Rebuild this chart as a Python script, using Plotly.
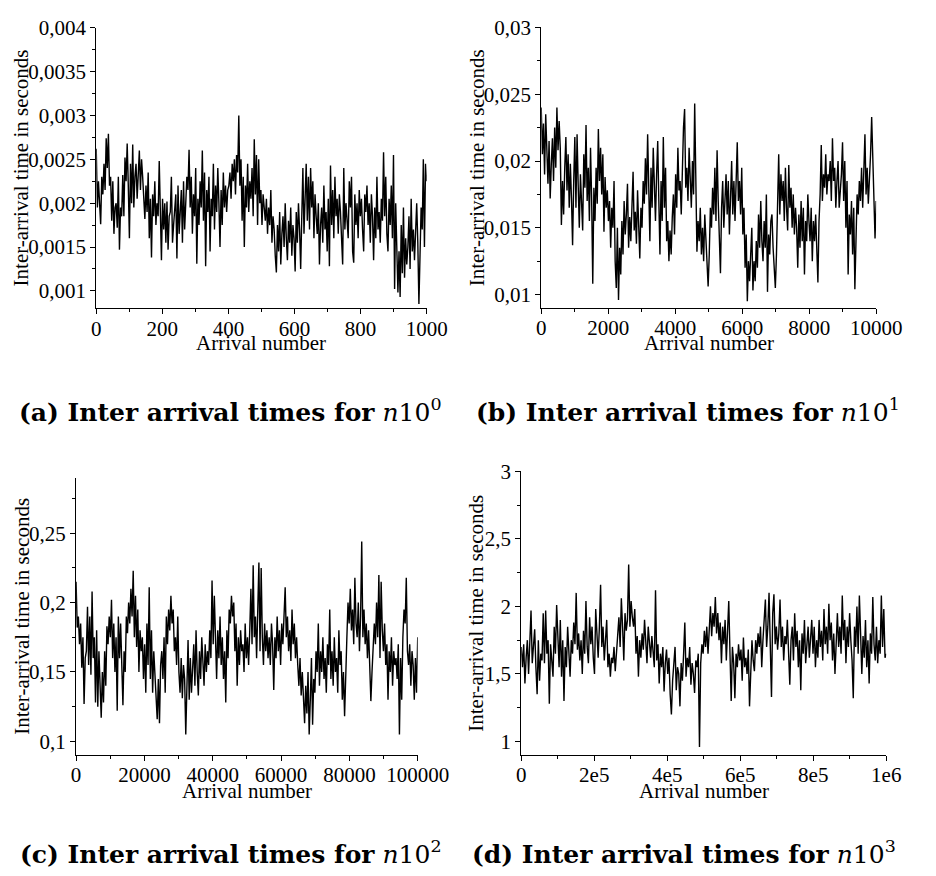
import numpy as np
import plotly.graph_objects as go

# ---------------- data ----------------
# (a) inter-arrival times, n10^0, in milliseconds
inter_a_ms = [
    2.62, 1.95, 2.25, 1.9, 1.76, 2.3, 2.1, 2.45, 2.15, 2.74, 2.4, 2.79, 2.2, 2.3, 1.8, 2.25, 1.65, 1.95, 2.0, 1.72, 2.3, 1.47, 1.95, 1.85, 2.32, 1.85, 2.52, 2.25, 2.68, 2.2,
    1.6, 2.45, 2.0, 2.67, 1.95, 2.3, 2.45, 2.05, 2.4, 2.6, 2.15, 2.5, 2.3, 2.05, 1.82, 2.2, 1.9, 2.35, 1.6, 2.05, 1.38, 2.1, 1.85, 2.25, 1.75, 2.0, 1.85, 2.48, 1.8, 1.35,
    2.05, 1.7, 2.0, 1.55, 2.02, 1.47, 1.85, 1.9, 2.3, 1.55, 1.75, 1.95, 2.1, 1.37, 2.2, 1.65, 1.95, 2.15, 1.55, 2.25, 1.7, 2.0, 2.3, 2.15, 2.61, 1.95, 2.3, 1.65, 2.1, 1.85,
    2.4, 1.31, 2.05, 1.75, 2.25, 1.95, 2.6, 1.8, 2.35, 1.28, 2.15, 1.9, 2.3, 1.45, 2.05, 1.85, 2.45, 1.7, 2.2, 1.9, 2.4, 2.0, 1.5, 2.15, 1.75, 2.35, 1.95, 2.2, 1.9, 2.15,
    2.2, 2.35, 2.05, 2.45, 2.25, 2.5, 2.1, 2.55, 2.35, 3.0, 2.2, 2.5, 1.8, 2.3, 1.5, 2.2, 1.95, 2.45, 1.9, 2.25, 2.05, 2.4, 1.85, 2.73, 2.1, 2.55, 1.75, 2.5, 2.0, 2.15,
    1.75, 2.1, 1.9, 1.8, 2.05, 1.65, 1.95, 1.75, 2.15, 1.55, 1.85, 1.7, 1.4, 1.21, 1.75, 1.45, 1.9, 1.3, 1.65, 1.85, 1.5, 2.0, 1.6, 1.35, 1.8, 1.55, 1.95, 1.4, 1.75, 1.6,
    1.22, 1.9, 1.55, 2.0, 1.7, 1.25, 1.85, 2.4, 1.65, 2.2, 2.45, 1.8, 2.3, 1.7, 2.4, 1.95, 2.25, 1.6, 2.1, 1.85, 1.65, 2.0, 1.3, 1.75, 1.95, 1.55, 2.2, 1.7, 1.9, 1.45,
    2.05, 1.28, 2.43, 1.75, 2.15, 1.6, 2.3, 1.85, 2.05, 1.65, 2.1, 1.9, 1.55, 1.3, 2.4, 1.7, 2.0, 1.85, 1.6, 2.25, 1.95, 2.3, 1.45, 1.32, 2.1, 1.75, 2.0, 1.6, 2.15, 1.85,
    2.05, 1.7, 1.45, 2.1, 1.9, 2.2, 1.75, 2.0, 1.55, 2.1, 1.85, 1.35, 1.95, 1.6, 2.3, 1.7, 1.9, 1.55, 2.05, 1.8, 2.58, 1.85, 2.3, 1.65, 1.45, 2.05, 1.75, 2.2, 1.6, 2.55,
    1.02, 2.0, 1.55, 0.98, 1.45, 0.93, 1.75, 1.2, 1.95, 1.15, 1.6, 1.3, 1.5, 1.85, 1.25, 2.05, 1.45, 1.7, 1.35, 1.6, 2.0, 1.55, 0.85, 1.4, 1.95, 1.7, 2.5, 1.5, 2.45, 2.25,
]

# (b) inter-arrival times, n10^1, in milliseconds
inter_b_ms = [
    24.0, 20.5, 22.8, 19.0, 23.5, 20.2, 18.3, 21.5, 17.2, 19.8, 21.7, 18.5, 22.5, 19.5, 24.0, 20.8, 23.0, 21.0, 15.2, 18.5, 16.0, 19.5, 21.8, 17.8, 20.5, 16.5, 19.8, 17.2, 13.7, 18.5,
    21.8, 16.5, 22.0, 18.2, 15.0, 19.0, 16.8, 14.8, 20.5, 18.0, 22.7, 17.0, 19.5, 15.5, 21.0, 17.2, 10.8, 18.0, 15.5, 19.5, 16.8, 22.4, 18.5, 21.0, 17.5, 20.5, 14.7, 18.8, 16.5, 17.8,
    15.5, 17.0, 13.5, 16.5, 15.0, 18.5, 12.5, 10.5, 15.0, 9.6, 13.5, 11.5, 15.5, 13.0, 17.0, 14.5, 16.0, 18.3, 13.5, 15.8, 14.0, 17.5, 19.2, 14.8, 16.2, 13.8, 17.8, 15.2, 12.7, 16.5,
    15.0, 18.5, 16.8, 20.2, 17.5, 22.0, 18.5, 14.0, 19.5, 16.5, 21.0, 17.8, 15.5, 19.0, 21.5, 17.0, 13.0, 18.5, 15.5, 21.8, 16.5, 19.5, 14.0, 15.5, 12.5, 14.8, 13.0, 15.8, 17.5, 14.5,
    19.0, 16.5, 21.0, 17.8, 18.5, 16.0, 19.5, 22.5, 23.9, 18.0, 19.5, 17.0, 21.0, 18.5, 16.5, 20.0, 17.5, 24.3, 18.0, 13.2, 15.5, 14.0, 16.5, 13.0, 15.0, 12.5, 16.0, 14.5, 12.0, 10.6,
    13.0, 16.5, 15.0, 18.0, 16.0, 19.5, 15.5, 20.8, 17.0, 14.5, 11.6, 16.5, 18.5, 15.0, 17.5, 19.0, 16.0, 18.5, 14.5, 17.5, 20.0, 16.0, 18.5, 15.5, 19.0, 21.4, 17.0, 18.5, 16.0, 19.5,
    14.5, 16.5, 12.0, 14.5, 9.5, 12.5, 11.0, 13.5, 15.0, 10.3, 12.5, 11.0, 14.0, 12.0, 16.0, 13.5, 17.0, 14.0, 12.5, 15.5, 13.5, 17.5, 10.2, 14.5, 13.0, 15.5, 16.0, 13.5, 12.0, 10.5,
    13.0, 17.5, 20.5, 16.0, 19.0, 17.0, 18.5, 15.5, 19.5, 16.5, 14.8, 19.7, 16.5, 18.0, 15.0, 17.5, 14.5, 16.5, 15.0, 12.0, 16.0, 13.5, 17.0, 14.0, 16.5, 11.5, 15.5, 14.0, 17.5, 15.5,
    14.0, 16.5, 12.5, 15.5, 14.0, 16.0, 13.0, 10.9, 15.5, 17.5, 21.2, 17.0, 19.0, 18.0, 20.5, 17.5, 19.0, 18.5, 20.0, 17.0, 21.7, 18.5, 19.5, 16.5, 18.5, 20.0, 16.5, 17.5, 19.0, 21.4,
    17.0, 20.0, 15.0, 18.5, 11.5, 16.0, 14.5, 17.0, 13.0, 16.5, 10.4, 14.0, 17.5, 16.0, 18.5, 17.0, 19.5, 16.5, 19.0, 22.0, 17.5, 19.5, 16.8, 18.5, 20.5, 23.3, 20.8, 18.0, 14.2, 17.0,
]

# (c) inter-arrival times, n10^2, in seconds
inter_c_s = [
    0.215, 0.182, 0.19, 0.17, 0.185, 0.153, 0.175, 0.127, 0.16, 0.165, 0.197, 0.155, 0.19, 0.148, 0.208, 0.16, 0.175, 0.128, 0.18, 0.125, 0.165, 0.14, 0.117, 0.15, 0.128, 0.165, 0.14, 0.183, 0.17, 0.19,
    0.175, 0.202, 0.16, 0.185, 0.15, 0.175, 0.122, 0.19, 0.16, 0.185, 0.145, 0.126, 0.165, 0.15, 0.19, 0.178, 0.2, 0.185, 0.21, 0.19, 0.223, 0.175, 0.205, 0.168, 0.195, 0.15, 0.18, 0.165, 0.175, 0.145,
    0.17, 0.135, 0.185, 0.155, 0.211, 0.145, 0.18, 0.135, 0.165, 0.15, 0.128, 0.116, 0.145, 0.113, 0.155, 0.165, 0.145, 0.175, 0.135, 0.19, 0.17, 0.195, 0.18, 0.205, 0.185, 0.195, 0.165, 0.175, 0.155, 0.19,
    0.15, 0.135, 0.16, 0.131, 0.155, 0.145, 0.105, 0.14, 0.173, 0.13, 0.16, 0.135, 0.15, 0.17, 0.14, 0.18, 0.15, 0.133, 0.165, 0.145, 0.175, 0.155, 0.14, 0.17, 0.15, 0.165, 0.155, 0.18, 0.16, 0.216,
    0.17, 0.205, 0.165, 0.145, 0.18, 0.16, 0.19, 0.155, 0.175, 0.145, 0.165, 0.128, 0.18, 0.16, 0.195, 0.185, 0.205, 0.19, 0.2, 0.165, 0.185, 0.14, 0.175, 0.155, 0.18, 0.165, 0.17, 0.15, 0.185, 0.16,
    0.175, 0.155, 0.18, 0.21, 0.17, 0.227, 0.175, 0.19, 0.16, 0.2, 0.229, 0.165, 0.225, 0.175, 0.155, 0.185, 0.165, 0.18, 0.16, 0.175, 0.155, 0.185, 0.17, 0.137, 0.175, 0.16, 0.19, 0.165, 0.18, 0.155,
    0.185, 0.17, 0.2, 0.211, 0.175, 0.19, 0.165, 0.18, 0.158, 0.195, 0.17, 0.185, 0.16, 0.175, 0.155, 0.14, 0.16, 0.133, 0.15, 0.125, 0.113, 0.14, 0.12, 0.15, 0.105, 0.13, 0.16, 0.112, 0.145, 0.135,
    0.165, 0.15, 0.185, 0.14, 0.165, 0.15, 0.175, 0.145, 0.16, 0.135, 0.17, 0.155, 0.195, 0.145, 0.165, 0.14, 0.175, 0.15, 0.16, 0.135, 0.18, 0.155, 0.165, 0.13, 0.15, 0.118, 0.16, 0.175, 0.2, 0.185,
    0.21, 0.18, 0.195, 0.17, 0.218, 0.185, 0.175, 0.2, 0.165, 0.19, 0.244, 0.175, 0.195, 0.17, 0.185, 0.16, 0.18, 0.145, 0.129, 0.15, 0.165, 0.185, 0.17, 0.2, 0.175, 0.22, 0.16, 0.215, 0.18, 0.165,
    0.185, 0.155, 0.17, 0.13, 0.165, 0.15, 0.175, 0.14, 0.165, 0.155, 0.16, 0.145, 0.17, 0.105, 0.16, 0.13, 0.175, 0.195, 0.185, 0.218, 0.165, 0.155, 0.17, 0.14, 0.165, 0.155, 0.13, 0.16, 0.135, 0.175,
]

# (d) inter-arrival times, n10^3, in seconds
inter_d_s = [
    1.7, 1.55, 1.72, 1.43, 1.62, 1.75, 1.5, 1.68, 1.97, 1.58, 1.7, 1.83, 1.55, 1.35, 1.75, 1.45, 1.65, 1.6, 1.95, 1.58, 1.97, 1.65, 1.75, 1.28, 1.72, 1.6, 1.48, 1.85, 1.65, 2.01,
    1.7, 1.55, 1.9, 1.48, 1.75, 1.3, 1.7, 1.55, 1.85, 1.62, 1.48, 1.75, 1.65, 1.88, 1.72, 2.1, 1.68, 1.8, 1.6, 1.75, 1.5, 1.82, 1.65, 2.04, 1.7, 1.58, 1.92, 1.72, 1.85, 1.62,
    1.5, 1.98, 1.75, 1.62, 1.85, 2.16, 1.7, 1.85, 1.6, 1.8, 1.9, 1.55, 1.65, 1.48, 1.62, 1.58, 1.7, 1.52, 1.65, 1.78, 1.92, 1.7, 2.06, 1.85, 1.6, 1.95, 1.82, 1.9, 2.31, 1.85,
    2.04, 1.92, 1.85, 1.98, 1.65, 1.78, 1.48, 1.75, 1.62, 1.8, 1.68, 1.9, 1.72, 1.58, 1.85, 1.7, 1.62, 1.78, 1.65, 1.55, 2.12, 1.6, 1.72, 1.43, 1.65, 1.55, 1.7, 1.37, 1.58, 1.68,
    1.5, 1.62, 1.35, 1.2, 1.45, 1.6, 1.7, 1.38, 1.55, 1.5, 1.26, 1.58, 1.45, 1.65, 1.88, 1.48, 1.62, 1.55, 1.7, 1.42, 1.58, 1.5, 1.36, 1.6, 1.55, 1.65, 0.96, 1.58, 1.72, 1.65,
    1.82, 1.7, 1.85, 1.65, 1.9, 2.0, 1.78, 1.95, 1.85, 2.07, 1.8, 1.95, 1.75, 1.88, 1.58, 1.85, 1.72, 1.9, 1.6, 1.8, 2.04, 1.65, 1.3, 1.7, 1.58, 1.32, 1.65, 1.55, 1.72, 1.6,
    1.68, 1.45, 1.77, 1.55, 1.62, 1.5, 1.68, 1.26, 1.58, 1.75, 1.6, 1.52, 1.75, 1.65, 1.8, 1.7, 1.85, 1.55, 1.75, 1.9, 2.05, 1.7, 1.85, 2.1, 1.75, 1.33, 1.95, 2.09, 1.72, 1.85,
    1.68, 1.8, 2.05, 1.7, 1.85, 1.6, 1.78, 1.72, 1.9, 1.65, 1.42, 1.75, 1.85, 1.6, 1.95, 1.7, 1.82, 1.55, 1.75, 1.38, 1.8, 1.65, 1.9, 1.58, 1.75, 1.85, 1.62, 1.78, 1.9, 1.65,
    1.85, 1.55, 1.75, 1.62, 1.9, 1.7, 1.82, 1.6, 1.98, 1.72, 1.85, 1.65, 2.02, 1.75, 1.88, 1.6, 1.8, 1.5, 1.72, 1.95, 1.7, 1.85, 1.65, 2.08, 1.75, 1.9, 1.58, 1.85, 1.7, 1.95,
    1.75, 1.6, 1.32, 1.85, 1.7, 2.0, 1.65, 2.08, 1.8, 1.5, 1.78, 1.62, 1.9, 1.55, 1.75, 1.43, 1.8, 1.65, 2.07, 1.72, 1.6, 1.85, 1.58, 1.75, 1.65, 2.08, 1.7, 1.98, 1.62, 1.65,
]

# axis extents (last arrival number per panel)
max_arrival = {"a": 1000, "b": 10000, "c": 100000, "d": 1000000}

# tick values and labels
xt_a = [0, 200, 400, 600, 800, 1000]
xt_a_lbl = ["0", "200", "400", "600", "800", "1000"]
xt_b = [0, 2000, 4000, 6000, 8000, 10000]
xt_b_lbl = ["0", "2000", "4000", "6000", "8000", "10000"]
xt_c = [0, 20000, 40000, 60000, 80000, 100000]
xt_c_lbl = ["0", "20000", "40000", "60000", "80000", "100000"]
xt_d = [0, 200000, 400000, 600000, 800000, 1000000]
xt_d_lbl = ["0", "2e5", "4e5", "6e5", "8e5", "1e6"]

yt_a = [0.001, 0.0015, 0.002, 0.0025, 0.003, 0.0035, 0.004]
yt_a_lbl = ["0,001", "0,0015", "0,002", "0,0025", "0,003", "0,0035", "0,004"]
yt_b = [0.01, 0.015, 0.02, 0.025, 0.03]
yt_b_lbl = ["0,01", "0,015", "0,02", "0,025", "0,03"]
yt_c = [0.1, 0.15, 0.2, 0.25]
yt_c_lbl = ["0,1", "0,15", "0,2", "0,25"]
yt_d = [1, 1.5, 2, 2.5, 3]
yt_d_lbl = ["1", "1,5", "2", "2,5", "3"]

captions = [
    "<b>(a) Inter arrival times for</b> <i>n</i>10<sup>0</sup>",
    "<b>(b) Inter arrival times for</b> <i>n</i>10<sup>1</sup>",
    "<b>(c) Inter arrival times for</b> <i>n</i>10<sup>2</sup>",
    "<b>(d) Inter arrival times for</b> <i>n</i>10<sup>3</sup>",
]
y_title = "Inter-arrival time in seconds"
x_title = "Arrival number"

# ---------------- layout geometry (pixels) ----------------
W, H = 936, 876
TICK_FONT = dict(family="Liberation Serif, Times New Roman, serif", size=21, color="black")
CAP_FONT = dict(family="DejaVu Serif, serif", size=25, color="black")


def px_x(p):
    return p / W


def px_y(p):
    return 1 - p / H


panels = [
    dict(key="a", vals=np.array(inter_a_ms) / 1000.0, xpx=(95, 439), ypx=(16, 300.5),
         yr=[0.0008, 0.004], xt=(xt_a, xt_a_lbl), yt=(yt_a, yt_a_lbl),
         ytitle_x=17, xtitle_y=336, cap_x=235, cap_y=404),
    dict(key="b", vals=np.array(inter_b_ms) / 1000.0, xpx=(558.3, 907), ypx=(15.7, 300),
         yr=[0.009, 0.03], xt=(xt_b, xt_b_lbl), yt=(yt_b, yt_b_lbl),
         ytitle_x=491, xtitle_y=336, cap_x=711, cap_y=404),
    dict(key="c", vals=np.array(inter_c_s), xpx=(74, 429.7), ypx=(472.3, 753.5),
         yr=[0.09, 0.29], xt=(xt_c, xt_c_lbl), yt=(yt_c, yt_c_lbl),
         ytitle_x=17, xtitle_y=790, cap_x=235, cap_y=852),
    dict(key="d", vals=np.array(inter_d_s), xpx=(537.5, 917.5), ypx=(465.7, 753.3),
         yr=[0.9, 3.0], xt=(xt_d, xt_d_lbl), yt=(yt_d, yt_d_lbl),
         ytitle_x=491, xtitle_y=790, cap_x=707, cap_y=852),
]

fig = go.Figure()
annotations = []
layout_axes = {}

for i, p in enumerate(panels):
    n = "" if i == 0 else str(i + 1)
    xmax = max_arrival[p["key"]]
    x = np.linspace(0, xmax, len(p["vals"]))
    fig.add_trace(go.Scatter(
        x=x, y=p["vals"], mode="lines",
        line=dict(color="black", width=1.4),
        xaxis="x" + n, yaxis="y" + n, showlegend=False, hoverinfo="skip",
    ))

    xtv, xtl = p["xt"]
    ytv, ytl = p["yt"]
    x_minor = [(xtv[k] + xtv[k + 1]) / 2 for k in range(len(xtv) - 1)]
    y_minor = [(ytv[k] + ytv[k + 1]) / 2 for k in range(len(ytv) - 1)]
    if ytv[-1] < p["yr"][1]:
        y_minor.append(ytv[-1] + (ytv[1] - ytv[0]) / 2)

    common = dict(showgrid=False, zeroline=False, showline=True, linecolor="black",
                  linewidth=1, ticks="outside", ticklen=5, tickwidth=1, tickcolor="black",
                  tickfont=TICK_FONT, mirror=False, fixedrange=True)
    layout_axes["xaxis" + n] = dict(
        common, domain=[px_x(p["xpx"][0]), px_x(p["xpx"][1])],
        range=[0, xmax], anchor="y" + n, tickmode="array", tickvals=xtv, ticktext=xtl,
        ticklabelstandoff=-4,
        minor=dict(tickmode="array", tickvals=x_minor, ticks="outside", ticklen=3,
                   tickwidth=1, tickcolor="black", showgrid=False),
    )
    layout_axes["yaxis" + n] = dict(
        common, domain=[px_y(p["ypx"][1]), px_y(p["ypx"][0])],
        range=p["yr"], anchor="x" + n, tickmode="array", tickvals=ytv, ticktext=ytl,
        minor=dict(tickmode="array", tickvals=y_minor, ticks="outside", ticklen=3,
                   tickwidth=1, tickcolor="black", showgrid=False),
    )

    ymid = (p["ypx"][0] + p["ypx"][1]) / 2
    xmid = (p["xpx"][0] + p["xpx"][1]) / 2
    annotations.append(dict(text=y_title, textangle=-90, x=px_x(p["ytitle_x"]), y=px_y(ymid),
                            xref="paper", yref="paper", xanchor="center", yanchor="middle",
                            showarrow=False, font=TICK_FONT))
    annotations.append(dict(text=x_title, x=px_x(xmid), y=px_y(p["xtitle_y"]),
                            xref="paper", yref="paper", xanchor="center", yanchor="middle",
                            showarrow=False, font=TICK_FONT))
    annotations.append(dict(text=captions[i], x=px_x(p["cap_x"]), y=px_y(p["cap_y"]),
                            xref="paper", yref="paper", xanchor="center", yanchor="middle",
                            showarrow=False, font=CAP_FONT))

fig.update_layout(
    width=W, height=H, autosize=False, margin=dict(l=0, r=0, t=0, b=0),
    paper_bgcolor="white", plot_bgcolor="white",
    annotations=annotations, showlegend=False,
    **layout_axes,
)

# The page's default 8px body margin would push the 936x876 figure off-window.
fig.write_html(
    "out.html",
    config={"displayModeBar": False, "responsive": False},
    post_script="document.body.style.margin='0';document.documentElement.style.overflow='hidden';",
)
